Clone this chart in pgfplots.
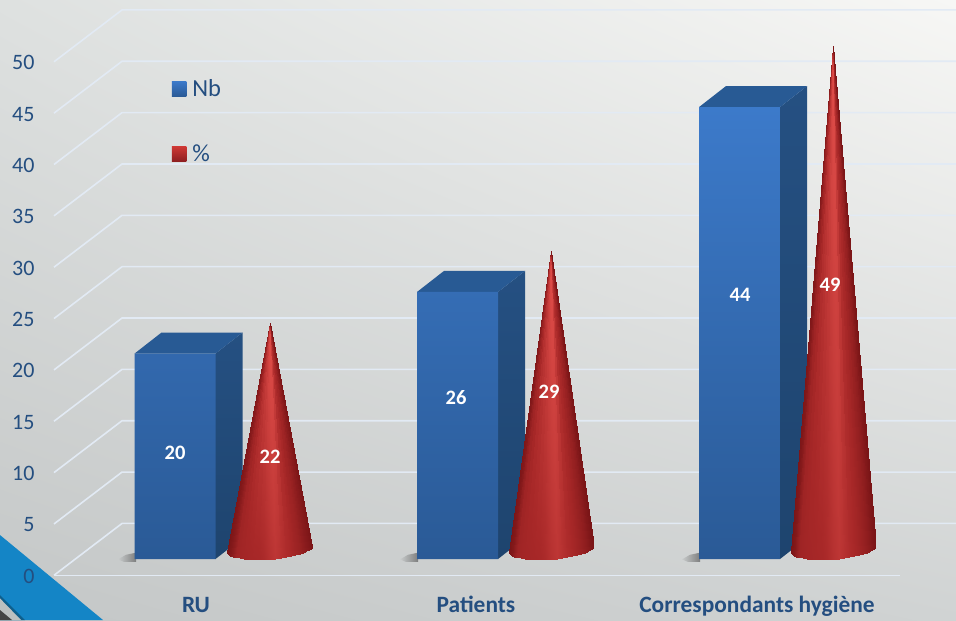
\documentclass[border=0pt]{standalone}
\usepackage{pgfplots}
\usepackage{pgfplotstable}
\usepackage{fontspec}
\setmainfont{Carlito}
\pgfplotsset{compat=1.18}
\usetikzlibrary{shadings}
\definecolor{inkblue}{RGB}{36,78,128}
\definecolor{gridc}{RGB}{226,234,244}
\definecolor{sideT}{RGB}{37,80,130}
\definecolor{sideB}{RGB}{30,68,110}
\definecolor{topF}{RGB}{40,90,148}
\definecolor{shadeA}{RGB}{200,203,203}
\definecolor{shadeB}{RGB}{125,126,126}
\pgfplotstableread{
xbar xcone Nb Pct
175 269.5 20 22
457.5 551 26 29
739.5 833 44 49
}\values
% cone surface: apex (t=1) and base ellipse (t=0) fan, dx in px, dy in axis units
\pgfplotstableread{
dx t dy c
0 1 0 0.10
-42.5 0 -0.29 0.02
-42.1 0 -0.415 0.03
0 1 0 0.12
-42.1 0 -0.415 0.03
-41.1 0 -0.532 0.06
0 1 0 0.16
-41.1 0 -0.532 0.06
-39.3 0 -0.641 0.12
0 1 0 0.23
-39.3 0 -0.641 0.12
-36.8 0 -0.738 0.25
0 1 0 0.33
-36.8 0 -0.738 0.25
-33.7 0 -0.823 0.40
0 1 0 0.42
-33.7 0 -0.823 0.40
-30.0 0 -0.894 0.43
0 1 0 0.55
-30.0 0 -0.894 0.43
-25.9 0 -0.949 0.45
0 1 0 0.68
-25.9 0 -0.949 0.45
-21.3 0 -0.988 0.46
0 1 0 0.76
-21.3 0 -0.988 0.46
-16.3 0 -1.011 0.48
0 1 0 0.85
-16.3 0 -1.011 0.48
-11.0 0 -1.016 0.49
0 1 0 0.93
-11.0 0 -1.016 0.49
-5.6 0 -1.003 0.53
0 1 0 0.99
-5.6 0 -1.003 0.53
0 0 -0.974 0.62
0 1 0 1.00
0 0 -0.974 0.62
5.6 0 -0.927 0.68
0 1 0 0.98
5.6 0 -0.927 0.68
11.0 0 -0.866 0.62
0 1 0 0.80
11.0 0 -0.866 0.62
16.3 0 -0.789 0.55
0 1 0 0.60
16.3 0 -0.789 0.55
21.3 0 -0.698 0.50
0 1 0 0.52
21.3 0 -0.698 0.50
25.9 0 -0.595 0.42
0 1 0 0.44
25.9 0 -0.595 0.42
30.0 0 -0.484 0.34
0 1 0 0.36
30.0 0 -0.484 0.34
33.7 0 -0.363 0.26
0 1 0 0.28
33.7 0 -0.363 0.26
36.8 0 -0.236 0.18
0 1 0 0.20
36.8 0 -0.236 0.18
39.3 0 -0.105 0.11
0 1 0 0.13
39.3 0 -0.105 0.11
41.1 0 0.028 0.06
0 1 0 0.08
41.1 0 0.028 0.06
42.1 0 0.159 0.03
0 1 0 0.05
42.1 0 0.159 0.03
42.5 0 0.29 0.02
}\conetab
\newcommand\cone[2]{%
  \addplot[patch, patch type=triangle, shader=interp, forget plot, yshift=26.3pt,
    point meta=\thisrow{c}]
    table[x expr=\thisrow{dx}+#1, y expr=\thisrow{t}*#2+\thisrow{dy}] {\conetab};
}
\begin{document}
\begin{tikzpicture}
\begin{axis}[
  scale only axis, width=956pt, height=620pt,
  xmin=0, xmax=956, ymin=-4.352, ymax=56.017,
  axis on top,
  axis line style={draw=none},
  tick style={draw=none},
  major tick length=0pt,
  axis background/.style={shading=bilinear interpolation,
    lower left={rgb,255:red,196;green,199;blue,199},
    lower right={rgb,255:red,208;green,211;blue,211},
    upper left={rgb,255:red,222;green,225;blue,224},
    upper right={rgb,255:red,247;green,247;blue,245}},
  ytick={0,5,...,50},
  /pgf/number format/assume math mode=true,
  yticklabel style={anchor=east, xshift=38pt, yshift=-1pt, text=inkblue, font=\fontsize{22}{26}\selectfont},
  xtick={196,476,757},
  xticklabels={RU,Patients,Correspondants hygiène},
  xticklabel style={anchor=center, yshift=12.5pt, text=inkblue, font=\fontsize{23.4}{26}\selectfont\bfseries, text height=15pt, text depth=5pt},
  colormap={conered}{rgb255=(120,20,22) rgb255=(168,40,40) rgb255=(225,78,74)},
  point meta min=0, point meta max=1,
  legend style={at={(0.1795,0.872)}, anchor=north west, draw=none, fill=none, inner sep=0pt,
    row sep=47pt, text=inkblue, font=\fontsize{24.5}{28}\selectfont,
    nodes={inner sep=0pt, anchor=west}},
  legend cell align=left,
  legend image code/.code={\path[#1] (0pt,-7.5pt) rectangle (14.5pt,7.5pt);},
  clip=true,
]
% decoration
\addplot[forget plot, draw=none, fill={rgb,255:red,20;green,133;blue,198}] coordinates {(0,3.92) (103,-4.352) (0,-4.352)} --cycle;
\addplot[forget plot, draw=none, fill={rgb,255:red,14;green,95;blue,140}] coordinates {(0,-1.92) (25,-4.352) (0,-4.352)} --cycle;
\addplot[forget plot, draw=none, fill={rgb,255:red,188;green,192;blue,192}] coordinates {(0,-2.25) (21,-4.352) (0,-4.352)} --cycle;
\addplot[forget plot, draw=none, fill={rgb,255:red,68;green,68;blue,68}] coordinates {(0,-3.38) (12,-4.352) (0,-4.352)} --cycle;
% grid
\addplot[forget plot, gridc, line width=1.6pt] coordinates {(54,0) (900,0)};
\addplot[forget plot, gridc, line width=1.6pt] coordinates {(54,0) (122,5.05) (956,5.05)};
\addplot[forget plot, gridc, line width=1.6pt] coordinates {(54,5) (122,10.05) (956,10.05)};
\addplot[forget plot, gridc, line width=1.6pt] coordinates {(54,10) (122,15.05) (956,15.05)};
\addplot[forget plot, gridc, line width=1.6pt] coordinates {(54,15) (122,20.05) (956,20.05)};
\addplot[forget plot, gridc, line width=1.6pt] coordinates {(54,20) (122,25.05) (956,25.05)};
\addplot[forget plot, gridc, line width=1.6pt] coordinates {(54,25) (122,30.05) (956,30.05)};
\addplot[forget plot, gridc, line width=1.6pt] coordinates {(54,30) (122,35.05) (956,35.05)};
\addplot[forget plot, gridc, line width=1.6pt] coordinates {(54,35) (122,40.05) (956,40.05)};
\addplot[forget plot, gridc, line width=1.6pt] coordinates {(54,40) (122,45.05) (956,45.05)};
\addplot[forget plot, gridc, line width=1.6pt] coordinates {(54,45) (122,50.05) (956,50.05)};
\addplot[forget plot, gridc, line width=1.6pt] coordinates {(54,50) (122,55.05) (956,55.05)};
% shadows
\addplot[forget plot, draw=none, left color=shadeA, right color=shadeB] coordinates {(118,1.55) (124,1.3) (136,1.3) (136,2.2) (126,2.0)} --cycle;
\addplot[forget plot, draw=none, left color=shadeA, right color=shadeB] coordinates {(400,1.55) (406,1.3) (418,1.3) (418,2.2) (408,2.0)} --cycle;
\addplot[forget plot, draw=none, left color=shadeA, right color=shadeB] coordinates {(682,1.55) (688,1.3) (700,1.3) (700,2.2) (690,2.0)} --cycle;
% bar sides and tops
\addplot[forget plot, draw=none, top color=sideT, bottom color=sideB, yshift=16.3pt] coordinates {(215.5,0) (215.5,20) (242.5,22.05) (242.5,2.05)} --cycle;
\addplot[forget plot, draw=none, fill=topF, yshift=16.3pt] coordinates {(134.5,20) (215.5,20) (242.5,22.05) (161.5,22.05)} --cycle;
\addplot[forget plot, draw=none, top color=sideT, bottom color=sideB, yshift=16.3pt] coordinates {(498,0) (498,26) (525,28.05) (525,2.05)} --cycle;
\addplot[forget plot, draw=none, fill=topF, yshift=16.3pt] coordinates {(417,26) (498,26) (525,28.05) (444,28.05)} --cycle;
\addplot[forget plot, draw=none, top color=sideT, bottom color=sideB, yshift=16.3pt] coordinates {(780,0) (780,44) (807,46.05) (807,2.05)} --cycle;
\addplot[forget plot, draw=none, fill=topF, yshift=16.3pt] coordinates {(699,44) (780,44) (807,46.05) (726,46.05)} --cycle;
% bar fronts
\addplot[forget plot, ybar, bar width=81pt, bar shift=0pt, draw=none,
  top color={rgb,255:red,60;green,122;blue,202}, bottom color={rgb,255:red,42;green,90;blue,150}, yshift=16.3pt]
  table[x=xbar, y=Nb] {\values};
% cones
\cone{269.5}{22}
\cone{551}{29}
\cone{833}{49}
% legend
\addlegendimage{draw=none, top color={rgb,255:red,60;green,122;blue,202}, bottom color={rgb,255:red,42;green,90;blue,150}}
\addlegendentry{\hspace{6pt}Nb}
\addlegendimage{draw=none, top color={rgb,255:red,205;green,56;blue,52}, bottom color={rgb,255:red,140;green,30;blue,32}}
\addlegendentry{\hspace{6pt}\%}
% value labels
\begin{scope}[every node/.style={text=white, font=\fontsize{20.5}{24}\selectfont\bfseries}]
\node at (axis cs:175,11.92) {20};
\node at (axis cs:270,11.52) {22};
\node at (axis cs:456,17.26) {26};
\node at (axis cs:549,17.85) {29};
\node at (axis cs:740,27.3) {44};
\node at (axis cs:830,28.27) {49};
\end{scope}
\end{axis}
\end{tikzpicture}
\end{document}
